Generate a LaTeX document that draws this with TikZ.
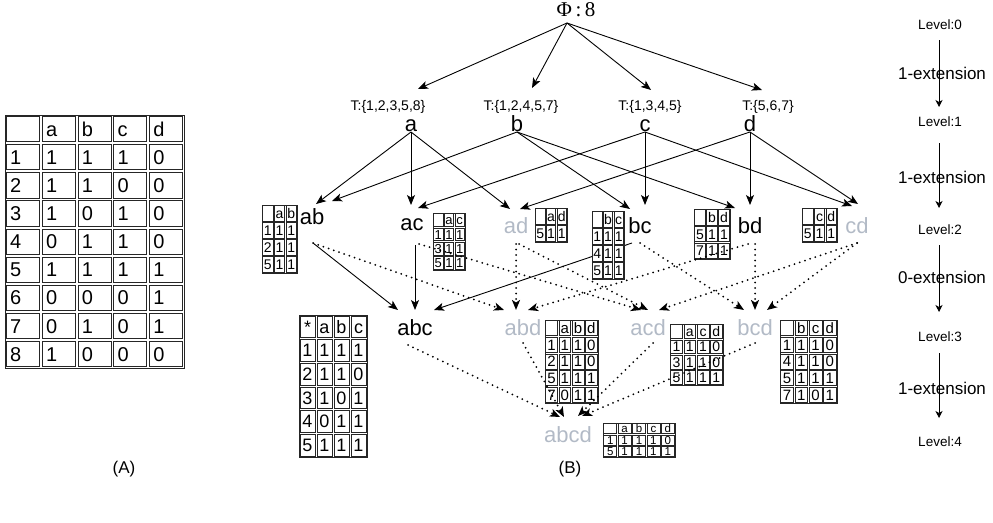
\documentclass[tikz,border=0pt]{standalone}
\usepackage{fontspec}
\setmainfont{Liberation Sans}
\newfontfamily\serifA{Liberation Serif}
\usetikzlibrary{arrows.meta}
\definecolor{lgray}{RGB}{178,186,198}
\newcommand\fs[1]{\fontsize{#1}{#1}\selectfont}
\def\tanch{center}\def\tfrac{0.5}
\newcommand\mytab[9]{%
  \pgfmathsetmacro\tcw{(#3-#1)/#5}%
  \pgfmathsetmacro\tch{(#4-#2)/#6}%
  \pgfmathsetmacro\tth{0.72*#7}%
  \fill[white] (#1,#2) rectangle (#3,#4);
  \draw[tabline] (#1,#2) rectangle (#3,#4);
  \foreach \trow [count=\ti] in {#8} {
    \foreach \tcell [count=\tj] in \trow {
      \draw[tabline] ({#1+(\tj-1)*\tcw+#9},{#2+(\ti-1)*\tch+#9}) rectangle ({#1+\tj*\tcw-#9},{#2+\ti*\tch-#9});
      \node[inner sep=0pt, anchor=\tanch, font=\fs{#7}, text height={\tth pt}, text depth=0pt] at ({#1+(\tj-1+\tfrac)*\tcw},{#2+(\ti-0.5)*\tch}) {\tcell};
    }
  }
}
\begin{document}
\begin{tikzpicture}[x=1pt,y=-1pt,
  tabline/.style={line width=0.65pt, draw=black!85},
  arr/.style={-{Stealth[length=10pt,width=8pt,inset=2.5pt]}, line width=0.9pt},
  sarr/.style={-{Stealth[length=7pt,width=7pt,inset=2pt]}, line width=0.8pt},
  dotarr/.style={-{Stealth[length=10pt,width=8pt,inset=2.5pt]}, line width=2pt, dash pattern=on 0pt off 5.5pt, line cap=round},
  lbl/.style={inner sep=0pt, anchor=base, font=\fs{22}},
  glbl/.style={lbl, text=lgray},
  tl/.style={inner sep=0pt, font=\fs{14}},
  lvl/.style={inner sep=0pt, font=\fs{13.5}},
  ext/.style={inner sep=0pt, font=\fs{17}}]
\useasboundingbox (0,0) rectangle (993,522);
% ---------- table A
\def\tanch{west}\def\tfrac{0.14}
\mytab{5}{115}{184}{368}{5}{9}{20}{{~,a,b,c,d},{1,1,1,1,0},{2,1,1,0,0},{3,1,0,1,0},{4,0,1,1,0},{5,1,1,1,1},{6,0,0,0,1},{7,0,1,0,1},{8,1,0,0,0}}{1.4}
\def\tanch{center}\def\tfrac{0.5}
\node[inner sep=0pt, font=\fs{17}] (capA) at (124,469) {(A)};
\node[inner sep=0pt, font=\fs{17}] (capB) at (570,469) {(B)};
% ---------- level 0 and 1
\node[inner sep=0pt, font=\serifA\fs{21}] (phi) at (576,10) {Φ\,:\,8};
\node[tl] (Ta) at (388,107) {T:\{1,2,3,5,8\}};
\node[tl] (Tb) at (521,107) {T:\{1,2,4,5,7\}};
\node[tl] (Tc) at (650,107) {T:\{1,3,4,5\}};
\node[tl] (Td) at (768,107) {T:\{5,6,7\}};
\node[lbl] (a) at (411,131) {a};
\node[lbl] (b) at (517,131) {b};
\node[lbl] (c) at (645,131) {c};
\node[lbl] (d) at (750,131) {d};
\coordinate (phi-s) at (567,23);
\coordinate (a-t) at (418,89); \coordinate (b-t) at (532,88);
\coordinate (c-t) at (651,90); \coordinate (d-t) at (762,90);
\foreach \n in {a,b,c,d} \draw[arr] (phi-s) -- (\n-t);
% ---------- level 2 labels
\node[lbl] (ab) at (312,224) {ab};
\node[lbl] (ac) at (412,230) {ac};
\node[glbl] (ad) at (516,233) {ad};
\node[lbl] (bc) at (640,233) {bc};
\node[lbl] (bd) at (750,233) {bd};
\node[glbl] (cd) at (857,233) {cd};
% sources of level 1
\coordinate (a-s) at (411,132); \coordinate (b-s) at (517,132);
\coordinate (c-s) at (645,132); \coordinate (d-s) at (750,132);
% tips at level 2
\coordinate (ab-t1) at (316,204); \coordinate (ab-t2) at (332,201);
\coordinate (ac-t1) at (411,205); \coordinate (ac-t2) at (418,208);
\coordinate (ad-t1) at (510,209); \coordinate (ad-t2) at (520,209);
\coordinate (bc-t1) at (630,209); \coordinate (bc-t2) at (645,205);
\coordinate (bd-t1) at (735,208); \coordinate (bd-t2) at (750,205);
\coordinate (cd-t1) at (852,206); \coordinate (cd-t2) at (858,204);
\draw[arr] (a-s) -- (ab-t1);
\draw[arr] (b-s) -- (ab-t2);
\draw[arr] (a-s) -- (ac-t1);
\draw[arr] (c-s) -- (ac-t2);
\draw[arr] (a-s) -- (ad-t1);
\draw[arr] (d-s) -- (ad-t2);
\draw[arr] (b-s) -- (bc-t1);
\draw[arr] (c-s) -- (bc-t2);
\draw[arr] (b-s) -- (bd-t1);
\draw[arr] (d-s) -- (bd-t2);
\draw[arr] (c-s) -- (cd-t1);
\draw[arr] (d-s) -- (cd-t2);
% ---------- level 3 labels
\node[lbl] (abc) at (415,335) {abc};
\node[glbl] (abd) at (523,335) {abd};
\node[glbl] (acd) at (648,335) {acd};
\node[glbl] (bcd) at (755,335) {bcd};
% sources at level 2
\coordinate (ab-s) at (313,243); \coordinate (ac-s) at (415,245); \coordinate (ac-s2) at (419,244);
\coordinate (ad-s) at (516,244); \coordinate (ad-s2) at (519,244);
\coordinate (bc-s) at (632,243); \coordinate (bc-s2) at (640,243);
\coordinate (bd-s) at (748,244); \coordinate (bd-s2) at (755,244);
\coordinate (cd-s) at (857,243);
% tips at level 3
\coordinate (abc-t1) at (398,310); \coordinate (abc-t2) at (415,310); \coordinate (abc-t3) at (434,310);
\coordinate (abd-t1) at (504,310); \coordinate (abd-t2) at (516,310); \coordinate (abd-t3) at (528,310);
\coordinate (acd-t1) at (641,310); \coordinate (acd-t2) at (648,310); \coordinate (acd-t3) at (659,310);
\coordinate (bcd-t1) at (744,310); \coordinate (bcd-t2) at (755,310); \coordinate (bcd-t3) at (767,310);
\draw[arr] (ab-s) -- (abc-t1);
\draw[arr] (ac-s) -- (abc-t2);
\draw[arr] (bc-s) -- (abc-t3);
% ---------- level-2 tables
\mytab{262}{205}{297}{273}{3}{4}{14}{{~,a,b},{1,1,1},{2,1,1},{5,1,1}}{0.8}
\mytab{433}{213}{465}{270}{3}{4}{13}{{~,a,c},{1,1,1},{3,1,1},{5,1,1}}{0.8}
\mytab{535}{208}{567}{242}{3}{2}{14}{{~,a,d},{5,1,1}}{0.8}
\mytab{592}{211}{624}{279}{3}{4}{14}{{~,b,c},{1,1,1},{4,1,1},{5,1,1}}{0.8}
\mytab{694}{209}{730}{259}{3}{3}{14}{{~,b,d},{5,1,1},{7,1,1}}{0.8}
\mytab{802}{208}{837}{242}{3}{2}{14}{{~,c,d},{5,1,1}}{0.8}
% ---------- level-3 tables
\mytab{299}{315}{367}{457}{4}{6}{18}{{*,a,b,c},{1,1,1,1},{2,1,1,0},{3,1,0,1},{4,0,1,1},{5,1,1,1}}{1.0}
\mytab{545}{320}{598}{403}{4}{5}{15}{{~,a,b,d},{1,1,1,0},{2,1,1,0},{5,1,1,1},{7,0,1,1}}{0.8}
\mytab{670}{324}{723}{385}{4}{4}{14}{{~,a,c,d},{1,1,1,0},{3,1,1,0},{5,1,1,1}}{0.8}
\mytab{780}{320}{837}{403}{4}{5}{15}{{~,b,c,d},{1,1,1,0},{4,1,1,0},{5,1,1,1},{7,1,0,1}}{0.8}
% ---------- level 4
\node[glbl] (abcd) at (568,442) {abcd};
\mytab{603}{423}{675}{457}{5}{3}{11.5}{{~,a,b,c,d},{1,1,1,1,0},{5,1,1,1,1}}{0.7}
% dotted extensions level 2 -> 3
\draw[dotarr] (ab-s) -- (abd-t1);
\draw[dotarr] (ad-s) -- (abd-t2);
\draw[dotarr] (bd-s) -- (abd-t3);
\draw[dotarr] (ac-s2) -- (acd-t1);
\draw[dotarr] (ad-s2) -- (acd-t2);
\draw[dotarr] (cd-s) -- (acd-t3);
\draw[dotarr] (bc-s2) -- (bcd-t1);
\draw[dotarr] (bd-s2) -- (bcd-t2);
\draw[dotarr] (cd-s) -- (bcd-t3);
% level 3 -> 4
\coordinate (abc-s) at (408,345); \coordinate (abd-s) at (523,343);
\coordinate (acd-s) at (653,343); \coordinate (bcd-s) at (755,343);
\coordinate (abcd-t1) at (560,417); \coordinate (abcd-t2) at (564,417);
\coordinate (abcd-t3) at (578,416); \coordinate (abcd-t4) at (582,416);
\draw[dotarr] (abc-s) -- (abcd-t1);
\draw[dotarr] (abd-s) -- (abcd-t2);
\draw[dotarr] (acd-s) -- (abcd-t3);
\draw[dotarr] (bcd-s) -- (abcd-t4);
% ---------- right column
\node[lvl] (L0) at (940,25) {Level:0};
\node[ext] (E1) at (942,73) {1-extension};
\node[lvl] (L1) at (940,122) {Level:1};
\node[ext] (E2) at (942,177) {1-extension};
\node[lvl] (L2) at (940,230) {Level:2};
\node[ext] (E3) at (942,277) {0-extension};
\node[lvl] (L3) at (940,337) {Level:3};
\node[ext] (E4) at (942,388) {1-extension};
\node[lvl] (L4) at (940,442) {Level:4};
\coordinate (r0s) at (939,40);  \coordinate (r0t) at (939,107);
\coordinate (r1s) at (939,143); \coordinate (r1t) at (939,208);
\coordinate (r2s) at (939,245); \coordinate (r2t) at (939,312);
\coordinate (r3s) at (939,353); \coordinate (r3t) at (939,418);
\draw[sarr] (r0s) -- (r0t);
\draw[sarr] (r1s) -- (r1t);
\draw[sarr] (r2s) -- (r2t);
\draw[sarr] (r3s) -- (r3t);
\end{tikzpicture}
\end{document}
